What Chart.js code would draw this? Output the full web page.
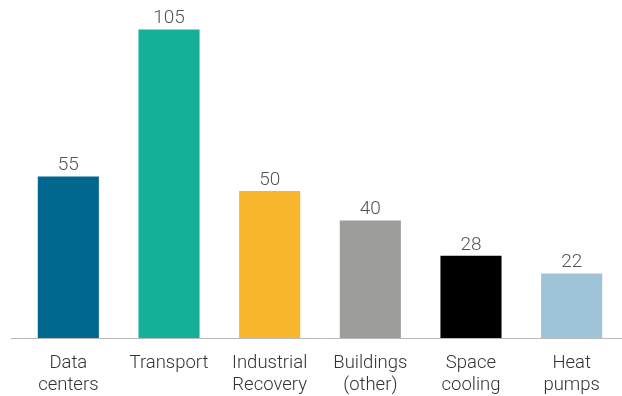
<!DOCTYPE html>
<html>
<head>
<meta charset="utf-8">
<script src="https://cdn.jsdelivr.net/npm/chart.js@4"></script>
<style>
  body { margin: 0; background: #fff; }
  #wrap { width: 622px; height: 396px; }
</style>
</head>
<body>
<div id="wrap"><canvas id="myChart" width="622" height="396"></canvas></div>
<script>
// chart data
const categories = [["Data", "centers"], "Transport", ["Industrial", "Recovery"], ["Buildings", "(other)"], ["Space", "cooling"], ["Heat", "pumps"]];
const values = [55, 105, 50, 40, 28, 22];
const barColors = ["#00678f", "#15b097", "#f8b62d", "#9d9d9b", "#000000", "#a0c4d7"];

// draws the number above each bar
const valueLabels = {
  id: 'valueLabels',
  afterDatasetsDraw(chart) {
    const ctx = chart.ctx;
    const meta = chart.getDatasetMeta(0);
    ctx.save();
    ctx.font = '300 19px Roboto';
    ctx.fillStyle = '#555';
    ctx.textAlign = 'center';
    ctx.textBaseline = 'alphabetic';
    meta.data.forEach((bar, i) => {
      ctx.fillText(values[i], bar.x, bar.y - 6);
    });
    ctx.restore();
  }
};

// the baseline runs a bit further left than the plot area
const baseLine = {
  id: 'baseLine',
  afterDraw(chart) {
    const ctx = chart.ctx;
    const y = chart.scales.y.getPixelForValue(0);
    ctx.save();
    ctx.strokeStyle = '#bbb';
    ctx.lineWidth = 1;
    ctx.beginPath();
    ctx.moveTo(11, Math.round(y) + 0.5);
    ctx.lineTo(chart.chartArea.left, Math.round(y) + 0.5);
    ctx.stroke();
    ctx.restore();
  }
};

const ctx = document.getElementById('myChart').getContext('2d');
const myChart = new Chart(ctx, {
  type: 'bar',
  data: {
    labels: categories,
    datasets: [{
      data: values,
      backgroundColor: barColors,
      barPercentage: 0.607,
      categoryPercentage: 1
    }]
  },
  options: {
    responsive: false,
    animation: false,
    layout: { padding: { left: 18, right: 0, top: 0, bottom: -7 } },
    plugins: {
      legend: { display: false },
      tooltip: { enabled: false }
    },
    scales: {
      x: {
        grid: { display: false },
        border: { color: '#bbb', width: 1 },
        ticks: {
          color: '#333',
          padding: 7,
          maxRotation: 0,
          autoSkip: false,
          font: { family: 'Roboto', size: 18.5, weight: '300', lineHeight: 1.16 }
        }
      },
      y: {
        display: false,
        min: 0,
        max: 115
      }
    }
  },
  plugins: [valueLabels, baseLine]
});
</script>
</body>
</html>
